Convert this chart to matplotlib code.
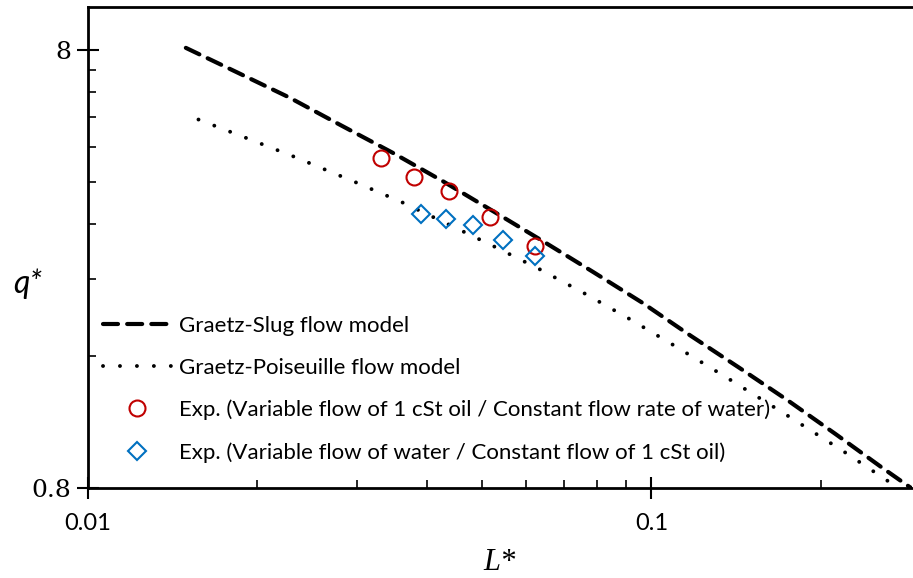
import matplotlib
matplotlib.use("Agg")
import matplotlib.pyplot as plt
from matplotlib.ticker import FixedLocator, NullFormatter

# Graetz-Slug flow model (L*, q*)
slug_L = [0.01493, 0.01839, 0.02278, 0.02817, 0.03479, 0.04278, 0.05248, 0.06438,
          0.07880, 0.09627, 0.1173, 0.1433, 0.1741, 0.2121, 0.2571, 0.2894]
slug_q = [8.07, 7.10, 6.22, 5.37, 4.65, 4.00, 3.42, 2.92,
          2.49, 2.12, 1.783, 1.505, 1.272, 1.064, 0.890, 0.80]

# Graetz-Poiseuille flow model (L*, q*)
pois_L = [0.01572, 0.01910, 0.02312, 0.02982, 0.03609, 0.04356, 0.05248, 0.06318,
          0.07583, 0.09093, 0.1087, 0.1375, 0.1736, 0.2195, 0.2610, 0.2745]
pois_q = [5.54, 5.03, 4.57, 3.99, 3.59, 3.20, 2.85, 2.53,
          2.23, 1.954, 1.705, 1.418, 1.176, 0.970, 0.836, 0.80]

# variable oil flow, constant water flow
oil_L = [0.03312, 0.03785, 0.04367, 0.05162, 0.06205]
oil_q = [4.53, 4.10, 3.81, 3.32, 2.86]

# variable water flow, constant oil flow
water_L = [0.03906, 0.04326, 0.04827, 0.05453, 0.06205]
water_q = [3.38, 3.28, 3.18, 2.95, 2.70]

labels = [
    "Graetz-Slug flow model",
    "Graetz-Poiseuille flow model",
    "Exp. (Variable flow of 1 cSt oil / Constant flow rate of water)",
    "Exp. (Variable flow of water / Constant flow of 1 cSt oil)",
]

SANS = ["Lato", "DejaVu Sans"]
SERIF = ["DejaVu Serif"]

fig = plt.figure(figsize=(9.13, 5.78), dpi=100)
ax = fig.add_axes([0.0961, 0.1552, 0.9028, 0.8327])

ax.plot(slug_L, slug_q, color="black", lw=3.0, dashes=(3.6, 2.2),
        dash_capstyle="round", label=labels[0])
ax.plot(pois_L, pois_q, color="black", lw=2.8, dashes=(0.01, 4.35),
        dash_capstyle="round", label=labels[1])
ax.plot(oil_L, oil_q, ls="none", marker="o", ms=11.5, mfc="none",
        mec="#C00000", mew=1.5, label=labels[2])
ax.plot(water_L, water_q, ls="none", marker="D", ms=9.5, mfc="none",
        mec="#0070C0", mew=1.5, label=labels[3])

ax.set_xscale("log")
ax.set_yscale("log")
ax.set_xlim(0.01, 0.29)
ax.set_ylim(0.8, 10)

ax.xaxis.set_major_locator(FixedLocator([0.01, 0.1]))
ax.xaxis.set_minor_locator(FixedLocator([0.02, 0.03, 0.04, 0.05, 0.06, 0.07,
                                         0.08, 0.09, 0.2]))
ax.yaxis.set_major_locator(FixedLocator([0.8, 8]))
ax.yaxis.set_minor_locator(FixedLocator([0.8 * k for k in range(2, 10)]))
ax.xaxis.set_minor_formatter(NullFormatter())
ax.yaxis.set_minor_formatter(NullFormatter())
ax.set_xticklabels(["0.01", "0.1"], family=SANS, fontsize=17)
ax.set_yticklabels(["0.8", "8"], family=SERIF, fontsize=18)

ax.tick_params(which="major", direction="inout", length=16, width=1.5, pad=4)
ax.tick_params(which="minor", direction="in", length=6, width=1.2)
ax.tick_params(axis="x", which="major", pad=10)

for side in ("left", "bottom", "top"):
    ax.spines[side].set_linewidth(2)
ax.spines["right"].set_visible(False)

ax.set_xlabel("L*", family=["Liberation Serif"], style="italic", fontsize=22,
              labelpad=10)
ax.set_ylabel("q*", family=SANS, style="italic", fontsize=23, rotation=0,
              va="center", ha="center")
ax.yaxis.set_label_coords(-0.073, 0.425)

ax.legend(loc="upper left", bbox_to_anchor=(0.018, 0.358), frameon=False,
          prop={"family": SANS, "size": 16}, handlelength=3.1,
          handletextpad=0.35, labelspacing=0.98, borderpad=0, borderaxespad=0)

fig.savefig("out.png", dpi=100)
